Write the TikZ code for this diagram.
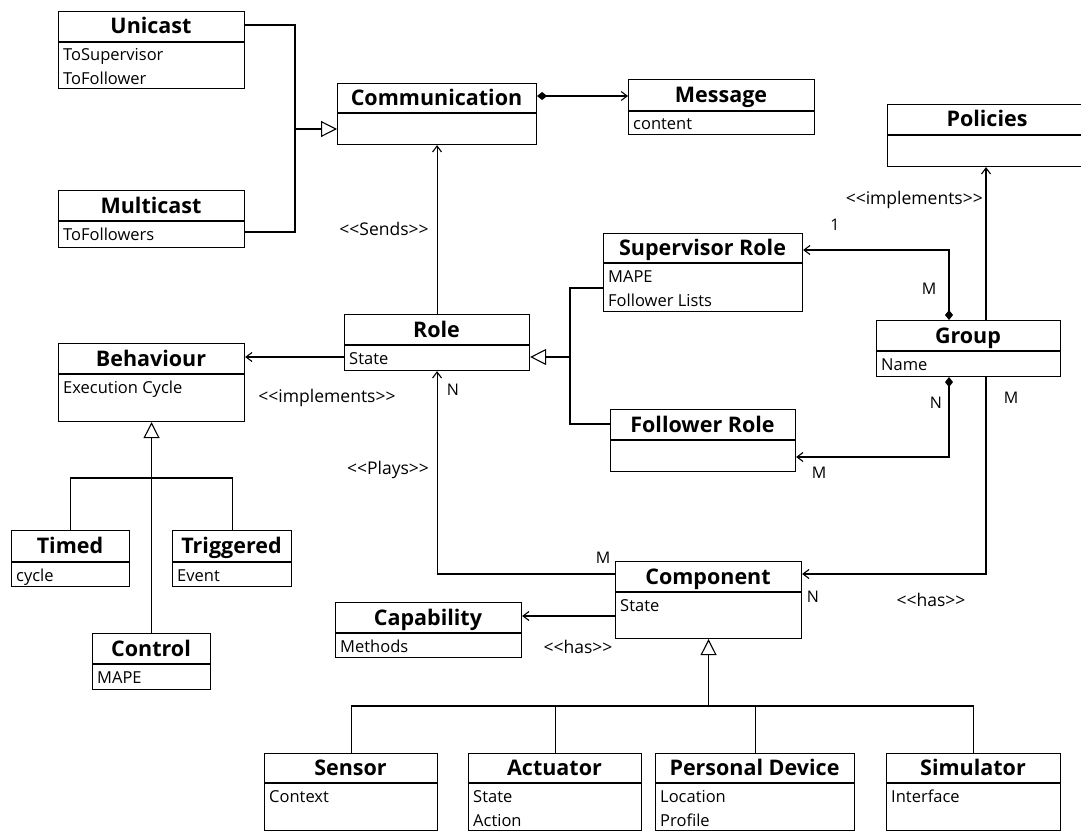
\documentclass[tikz,border=0pt]{standalone}
\usepackage{fontspec}
\setmainfont{Open Sans}
\usetikzlibrary{arrows.meta}

\tikzset{
  classbox/.style={draw, fill=white, line width=1.1pt, inner sep=0pt},
  boxline/.style={line width=1.1pt},
  titletext/.style={font=\fontsize{21.5}{24}\selectfont\bfseries, anchor=base, inner sep=0pt},
  attrtext/.style={font=\fontsize{16.5}{18}\selectfont, anchor=base west, inner sep=0pt},
  lbl/.style={font=\fontsize{16}{18}\selectfont, inner sep=0pt},
  stlbl/.style={font=\fontsize{17.5}{19}\selectfont, inner sep=0pt},
  wire/.style={line width=1.1pt},
  assoc/.style={wire, -{Straight Barb[length=6pt,width=9pt]}},
  gen/.style={wire, -{Triangle[open,fill=white,length=16pt,width=16pt]}},
  comp/.style={wire, {Diamond[length=10pt,width=8pt]}-{Straight Barb[length=6pt,width=9pt]}},
}

% UML class: name, left, top, right, separator, bottom, title, attributes
\newcommand\umlclass[8]{%
  \node[classbox, minimum width={(#4-(#2))*1pt}, minimum height={(#6-(#3))*1pt},
        anchor=north west] (#1) at (#2,#3) {};
  \draw[boxline] (#2,#5) -- (#4,#5);
  \node[titletext] at ({(#2+#4)/2},{(#3+#5)/2+7.5}) {#7};
  \foreach \a [count=\i] in {#8} {\node[attrtext] at (#2+5,{#5+19+24*(\i-1)}) {\a};}
}
\newcommand\stereo[1]{<\kern0pt<#1>\kern0pt>}

\begin{document}
\begin{tikzpicture}[x=1pt, y=-1pt]
\useasboundingbox (0,0) rectangle (1081,832);
\clip (0,0) rectangle (1081,832);

% classes
\umlclass{unicast}{58}{11}{244}{42}{88}{Unicast}{ToSupervisor,ToFollower}
\umlclass{multicast}{58}{190}{244}{221}{247}{Multicast}{ToFollowers}
\umlclass{comm}{337}{83}{536}{113}{144}{Communication}{}
\umlclass{message}{628}{79}{814}{111}{134}{Message}{content}
\umlclass{policies}{887}{104}{1087}{135}{166}{Policies}{}
\umlclass{supervisor}{603}{233}{802}{263}{311}{Supervisor Role}{MAPE,Follower Lists}
\umlclass{group}{876}{320}{1060}{351}{376}{Group}{Name}
\umlclass{follower}{610}{409}{795}{440}{471}{Follower Role}{}
\umlclass{role}{344}{314}{529}{345}{370}{Role}{State}
\umlclass{behaviour}{58}{343}{244}{374}{421}{Behaviour}{Execution Cycle}
\umlclass{timed}{11}{530}{129}{562}{586}{Timed}{cycle}
\umlclass{triggered}{172}{530}{291}{562}{586}{Triggered}{Event}
\umlclass{control}{92}{633}{210}{664}{689}{Control}{MAPE}
\umlclass{component}{615}{561}{801}{592}{638}{Component}{State}
\umlclass{capability}{335}{602}{521}{633}{657}{Capability}{Methods}
\umlclass{sensor}{264}{753}{437}{783}{830}{Sensor}{Context}
\umlclass{actuator}{468}{753}{641}{783}{830}{Actuator}{State,Action}
\umlclass{pdevice}{655}{753}{854}{783}{830}{Personal Device}{Location,Profile}
\umlclass{simulator}{886}{753}{1060}{783}{830}{Simulator}{Interface}

% communication kinds
\draw[wire] (unicast.east |- 0,25) -- (295,25) -- (295,232) -- (multicast.east |- 0,232);
\draw[gen] (295,129) -- (comm.west |- 0,129);
\draw[comp] (comm.east |- 0,96) -- (message.west |- 0,96);

% role relations
\draw[assoc] (role.north) -- (comm.south);
\draw[assoc] (role.west |- 0,357) -- (behaviour.east |- 0,357);
\draw[wire] (supervisor.west |- 0,288) -- (570,288) -- (570,424) -- (follower.west |- 0,424);
\draw[gen] (570,357) -- (role.east |- 0,357);

% group relations
\draw[comp] (group.north -| 949,0) |- (supervisor.east |- 0,250);
\draw[comp] (group.south -| 949,0) |- (follower.east |- 0,457);
\draw[assoc] (group.north -| 986,0) -- (policies.south -| 986,0);
\draw[assoc] (group.south -| 986,0) |- (component.east |- 0,574);

% component relations
\draw[assoc] (component.west |- 0,574) -| (role.south);
\draw[assoc] (component.west |- 0,616) -- (capability.east |- 0,616);

% behaviour kinds
\draw[wire] (timed.north) |- (triggered.north |- 0,478) -- (triggered.north);
\draw[gen] (control.north) -- (behaviour.south);

% component kinds
\draw[wire] (sensor.north) |- (simulator.north |- 0,706) -- (simulator.north);
\draw[wire] (actuator.north) -- (actuator.north |- 0,706);
\draw[wire] (pdevice.north) -- (pdevice.north |- 0,706);
\draw[gen] (component.south |- 0,706) -- (component.south);

% labels
\node[stlbl] (lsends) at (384,229) {\stereo{Sends}};
\node[stlbl] (limpl) at (327,398) {\stereo{implements}};
\node[stlbl] (lplays) at (388,470) {\stereo{Plays}};
\node[stlbl] (lhascap) at (578,647) {\stereo{has}};
\node[stlbl] (lhascomp) at (931,600) {\stereo{has}};
\node[stlbl, anchor=east] (limplpol) at (983,200) {\stereo{implements}};
\node[lbl] (m1) at (835,225) {1};
\node[lbl] (m2) at (929,289) {M};
\node[lbl] (m3) at (936,403) {N};
\node[lbl] (m4) at (1011,398) {M};
\node[lbl] (m5) at (819,473) {M};
\node[lbl] (m6) at (813,597) {N};
\node[lbl] (m7) at (603,558) {M};
\node[lbl] (m8) at (453,390) {N};
\end{tikzpicture}
\end{document}
